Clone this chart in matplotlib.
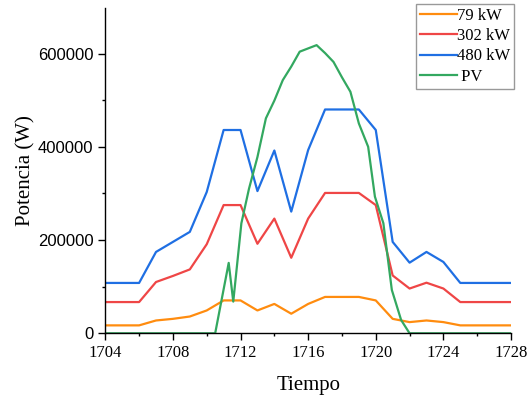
import matplotlib
matplotlib.use("Agg")
import matplotlib.pyplot as plt
from matplotlib.ticker import MultipleLocator

# hourly load profiles
hours = list(range(1704, 1729))
load_79 = [17000, 17000, 17000, 27500, 31000, 36000, 49000, 70500, 70500, 49000,
           63000, 42000, 63000, 78000, 78000, 78000, 70500, 31000, 24000, 27500,
           24000, 17000, 17000, 17000, 17000]
load_302 = [67000, 67000, 67000, 110000, 123000, 137000, 191000, 275000, 275000, 192000,
            246000, 162000, 246000, 301000, 301000, 301000, 275000, 124000, 96000, 108500,
            96000, 67000, 67000, 67000, 67000]
load_480 = [108000, 108000, 108000, 174500, 196000, 217500, 303000, 436000, 436000, 305000,
            392000, 261000, 393000, 480000, 480000, 480000, 436000, 196000, 151500, 174500,
            153000, 108000, 108000, 108000, 108000]

# PV generation (finer time steps)
pv_time = [1704, 1710.5, 1711.3, 1711.57, 1712.05, 1712.5, 1713.0, 1713.5, 1714.0,
           1714.5, 1715.0, 1715.5, 1716.0, 1716.5, 1717.0, 1717.5, 1718.0, 1718.5,
           1719.0, 1719.55, 1719.95, 1720.45, 1720.95, 1721.5, 1722.0, 1728]
pv_power = [0, 0, 151000, 68000, 236000, 310000, 378000, 461000, 499000,
            543000, 572000, 604000, 611000, 618000, 601000, 582000, 549000, 518000,
            450000, 400000, 293000, 236000, 93000, 28500, 0, 0]

SERIF = "Liberation Serif"
SANS = "Liberation Sans"

fig = plt.figure(figsize=(5.31, 3.99), dpi=100)
ax = fig.add_axes([105.3 / 531, 1 - 333.3 / 399, (511 - 105.3) / 531, (333.3 - 8.3) / 399])

ax.plot(hours, load_79, color="#ff8c0f", lw=1.6, label="79 kW")
ax.plot(hours, load_302, color="#ef4646", lw=1.6, label="302 kW")
ax.plot(hours, load_480, color="#1f6fe3", lw=1.6, label="480 kW")
ax.plot(pv_time, pv_power, color="#33a860", lw=1.6, label=" PV")

ax.set_xlim(1704, 1728)
ax.set_ylim(0, 697000)
ax.xaxis.set_major_locator(MultipleLocator(4))
ax.xaxis.set_minor_locator(MultipleLocator(2))
ax.yaxis.set_major_locator(MultipleLocator(200000))
ax.yaxis.set_minor_locator(MultipleLocator(100000))

for side in ("top", "right"):
    ax.spines[side].set_visible(False)
for side in ("left", "bottom"):
    ax.spines[side].set_linewidth(1.0)
ax.tick_params(which="major", direction="out", length=5, width=1.0)
ax.tick_params(which="minor", direction="out", length=2.5, width=1.0)

for lbl in ax.get_xticklabels():
    lbl.set_fontfamily(SERIF)
    lbl.set_fontsize(12)
for lbl in ax.get_yticklabels():
    lbl.set_fontfamily(SANS)
    lbl.set_fontsize(12)

ax.set_xlabel("Tiempo", fontfamily=SERIF, fontsize=15, labelpad=11)
ax.set_ylabel("Potencia (W)", fontfamily=SERIF, fontsize=15, labelpad=2)

leg = ax.legend(loc="upper right", bbox_to_anchor=(514 / 531, 1 - 4 / 399),
                bbox_transform=fig.transFigure, prop={"family": SERIF, "size": 12},
                fancybox=False, frameon=True, edgecolor="#999999", framealpha=1,
                handlelength=2.2, handletextpad=0.0, labelspacing=0.25,
                borderpad=0.25, borderaxespad=0)
leg.get_frame().set_linewidth(1.0)

fig.savefig("out.png", dpi=100)
